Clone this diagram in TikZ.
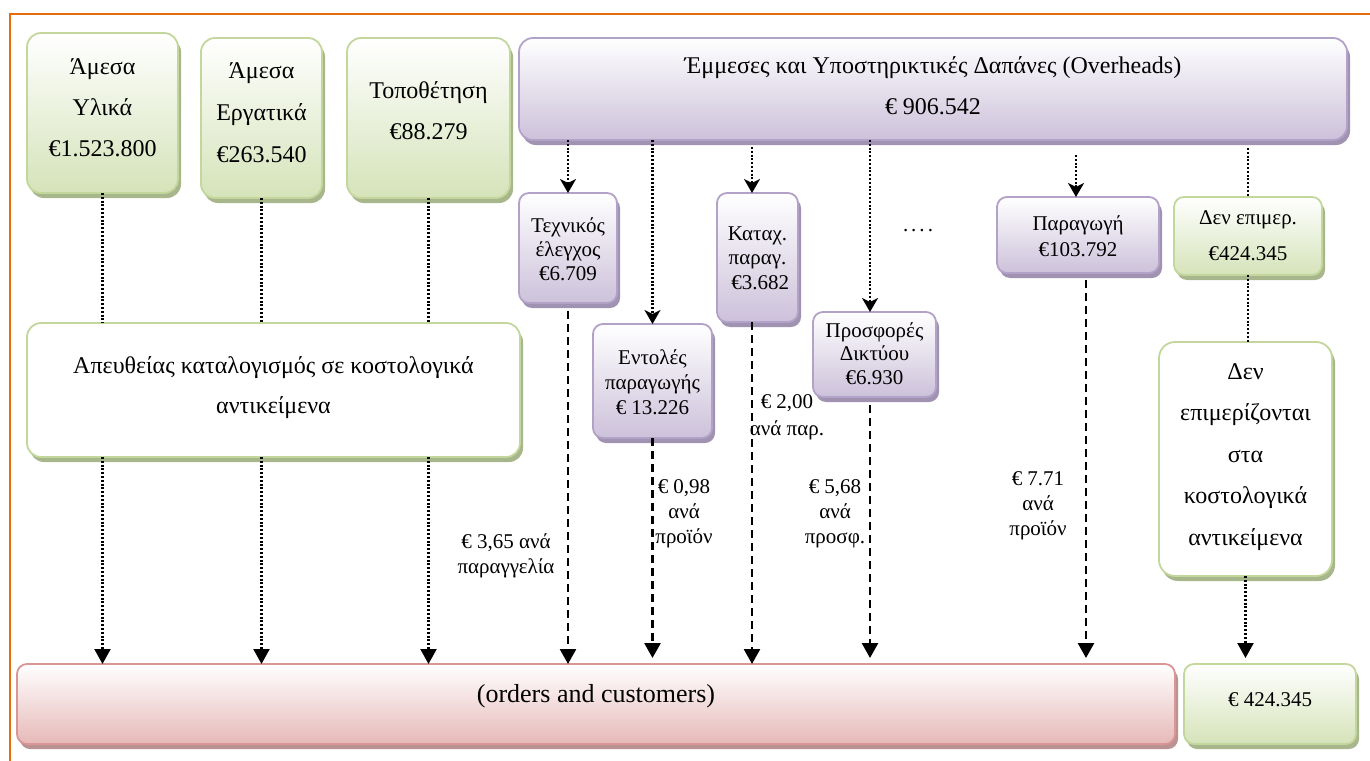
\documentclass[tikz,border=0pt]{standalone}
\usepackage{fontspec}
\setmainfont{Liberation Serif}
\usetikzlibrary{arrows.meta,shadows,calc}
\definecolor{gbord}{HTML}{C3D69B}
\definecolor{gfill}{HTML}{D5E3B9}
\definecolor{gshad}{HTML}{A8B68C}
\definecolor{pbord}{HTML}{B3A2C7}
\definecolor{pfill}{HTML}{CCC1DA}
\definecolor{pshad}{HTML}{A093B2}
\definecolor{rbord}{HTML}{D99694}
\definecolor{rfill}{HTML}{E6B9B8}
\definecolor{rshad}{HTML}{B89392}
\definecolor{framecol}{HTML}{E46C0A}
\newcommand\btxt[2]{\raisebox{#1}[0pt][0pt]{\begin{tabular}[t]{@{}c@{}}#2\end{tabular}}}
\tikzset{
  boxbase/.style={rectangle, inner sep=0pt, outer sep=0pt, line width=1.8pt},
  gbox/.style={boxbase, rounded corners=#1, draw=gbord, top color=white, bottom color=gfill,
     drop shadow={shadow xshift=3pt, shadow yshift=-5pt, fill=gshad, opacity=1}},
  wbox/.style={boxbase, rounded corners=#1, draw=gbord, fill=white,
     drop shadow={shadow xshift=3pt, shadow yshift=-5pt, fill=gshad, opacity=1}},
  pbox/.style={boxbase, rounded corners=#1, draw=pbord, top color=white, bottom color=pfill,
     drop shadow={shadow xshift=3pt, shadow yshift=-5pt, fill=pshad, opacity=1}},
  rbox/.style={boxbase, rounded corners=#1, draw=rbord, top color=white, bottom color=rfill,
     drop shadow={shadow xshift=3pt, shadow yshift=-5pt, fill=rshad, opacity=1}},
  lbl/.style={inner sep=0pt, font=\fontsize{21}{25}\selectfont},
  dotl/.style={line width=2.2pt, dash pattern=on 2pt off 1.8pt},
  dashl/.style={line width=2.6pt, dash pattern=on 8pt off 5pt},
  tri/.style={-{Triangle[length=15pt,width=16pt]}},
  stl/.style={-{Stealth[length=14pt,width=16pt,inset=4pt]}},
}
\begin{document}
\begin{tikzpicture}[x=1pt,y=-1pt]
\useasboundingbox (0,0) rectangle (1370,760);
\draw[framecol, line width=2pt] (10,762) -- (10,14) -- (1372,14);

% top direct cost boxes
\node[gbox=14pt, minimum width=151pt, minimum height=160pt, font=\fontsize{24}{41}\selectfont]
  (m1) at (102.5,113) {\btxt{39pt}{Άμεσα\\Υλικά\\€1.523.800}};
\node[gbox=14pt, minimum width=121pt, minimum height=160pt, font=\fontsize{24}{42}\selectfont]
  (m2) at (261.5,118) {\btxt{40pt}{Άμεσα\\Εργατικά\\€263.540}};
\node[gbox=14pt, minimum width=163pt, minimum height=160pt, font=\fontsize{24}{41}\selectfont]
  (m3) at (428.5,118) {\btxt{20pt}{Τοποθέτηση\\€88.279}};

% overheads
\node[pbox=14pt, minimum width=828pt, minimum height=102pt, font=\fontsize{24}{41}\selectfont]
  (ovh) at (933,89) {\btxt{16pt}{Έμμεσες και Υποστηρικτικές Δαπάνες (Overheads)\\€ 906.542}};

% activity boxes
\node[pbox=10pt, minimum width=98pt, minimum height=110pt, font=\fontsize{21}{24}\selectfont]
  (tech) at (568,248) {\btxt{16pt}{Τεχνικός\\έλεγχος\\€6.709}};
\node[pbox=10pt, minimum width=119pt, minimum height=114pt, font=\fontsize{21}{25}\selectfont]
  (ent) at (652.5,381) {\btxt{17pt}{Εντολές\\παραγωγής\\€ 13.226}};
\node[pbox=10pt, minimum width=81pt, minimum height=129pt, font=\fontsize{21}{24.5}\selectfont]
  (kat) at (757.5,257.5) {\btxt{17.5pt}{Καταχ.\\παραγ.\\\ €3.682}};
\node[pbox=10pt, minimum width=123pt, minimum height=85pt, font=\fontsize{21}{23.5}\selectfont]
  (prosf) at (874.5,354.5) {\btxt{17.5pt}{Προσφορές\\Δικτύου\\€6.930}};
\node[pbox=10pt, minimum width=162pt, minimum height=76pt, font=\fontsize{21}{26}\selectfont]
  (parag) at (1078,235) {\btxt{5pt}{Παραγωγή\\€103.792}};
\node[gbox=10pt, minimum width=148pt, minimum height=78pt, font=\fontsize{21}{36}\selectfont]
  (denA) at (1248,236) {\btxt{12pt}{Δεν επιμερ.\\€424.345}};

% middle boxes
\node[wbox=14pt, minimum width=493pt, minimum height=134pt, font=\fontsize{24}{40}\selectfont]
  (direct) at (273.5,390) {\btxt{17pt}{Απευθείας καταλογισμός σε κοστολογικά\\αντικείμενα}};
\node[wbox=16pt, minimum width=173pt, minimum height=234pt, font=\fontsize{24}{41.5}\selectfont]
  (denB) at (1245.5,459) {\btxt{80pt}{Δεν\\επιμερίζονται\\στα\\κοστολογικά\\αντικείμενα}};

% bottom boxes
\node[rbox=10pt, minimum width=1158pt, minimum height=80pt, font=\fontsize{26}{30}\selectfont]
  (orders) at (596,704) {\btxt{2pt}{(orders and customers)}};
\node[gbox=10pt, minimum width=172pt, minimum height=80pt, font=\fontsize{21}{25}\selectfont]
  (val) at (1270,704) {\btxt{-2pt}{€ 424.345}};

% labels
\node[lbl] (l1) at (506,548) {\btxt{0pt}{€ 3,65 ανά\\παραγγελία}};
\node[lbl] (l2) at (684,493) {\btxt{0pt}{€ 0,98\\ανά\\προϊόν}};
\node[lbl, font=\fontsize{21}{27}\selectfont] (l3) at (787,408) {\btxt{0pt}{€ 2,00\\ανά παρ.}};
\node[lbl] (l4) at (835,493) {\btxt{0pt}{€ 5,68\\ανά\\προσφ.}};
\node[lbl] (l5) at (1038,485) {\btxt{0pt}{€ 7.71\\ανά\\προϊόν}};
\node[lbl] (dots) at (918,231) {\btxt{0pt}{.\hspace{3pt}.\hspace{3pt}.\hspace{3pt}.}};

% coordinates for off-centre connectors
\coordinate (kx) at (752,0);
\coordinate (px) at (870,0);
\coordinate (qx) at (1076,0);
\coordinate (rx) at (1086,0);

% direct cost connectors
\foreach \n in {m1,m2,m3}{
  \draw[dotl] (\n.south) -- (\n.south |- direct.north);
  \draw[dotl,tri] (\n.south |- direct.south) -- (\n.south |- orders.north);
}

% overhead connectors
\draw[dotl,stl] (ovh.south -| tech.north) -- (tech.north);
\draw[dotl,stl] (ovh.south -| ent.north) -- (ent.north);
\draw[dotl,stl] ($(ovh.south -| kx)+(0,7)$) -- (kat.north -| kx);
\draw[dotl,stl] (ovh.south -| px) -- (prosf.north -| px);
\draw[dotl,stl] ($(ovh.south -| qx)+(0,15)$) -- (parag.north -| qx);
\draw[dotl] ($(ovh.south -| denA.north)+(0,8)$) -- (denA.north);
\draw[dotl] (denA.south) -- (denA.south |- denB.north);
\draw[dotl,tri,shorten >=6pt] (denB.south) -- (denB.south |- val.north);

% allocation connectors
\draw[dashl,tri,shorten <=8pt] (tech.south) -- (tech.south |- orders.north);
\draw[dashl,tri,shorten >=6pt] (ent.south) -- (ent.south |- orders.north);
\draw[dashl,tri] (kat.south -| kx) -- (orders.north -| kx);
\draw[dashl,tri,shorten <=8pt,shorten >=6pt] (prosf.south -| px) -- (orders.north -| px);
\draw[dashl,tri,shorten <=7pt,shorten >=6pt] (parag.south -| rx) -- (orders.north -| rx);
\end{tikzpicture}
\end{document}
